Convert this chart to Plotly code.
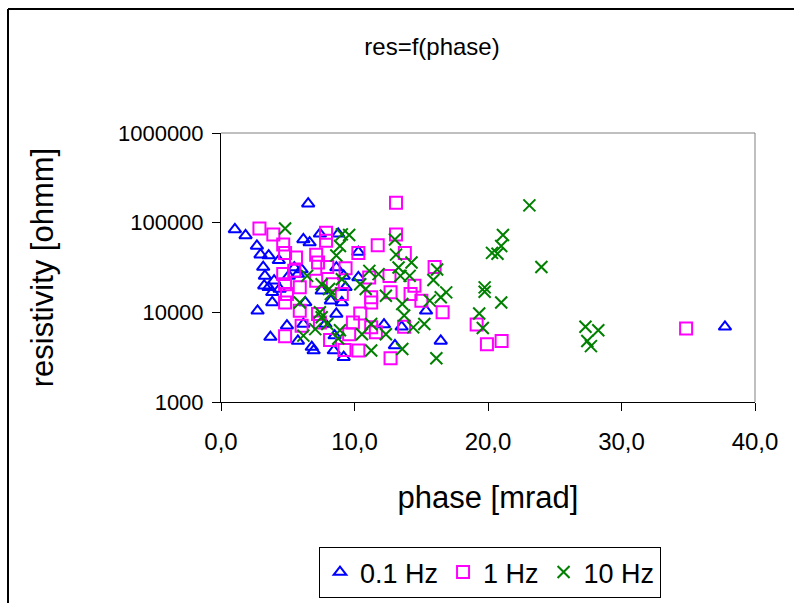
import plotly.graph_objects as go

# 0.1 Hz series: phase [mrad], resistivity [ohmm]
phase_01 = [6.53, 1.04, 1.84, 2.69, 2.96, 3.57, 6.17, 6.64, 7.41, 8.78, 10.29, 4.33, 3.16, 3.29,
            3.24, 3.57, 3.84, 3.84, 2.74, 5.08, 6.04, 5.76, 6.31, 8.64, 9.19, 10.29, 7.54, 9.05,
            8.23, 8.64, 4.94, 6.17, 7.82, 3.70, 5.76, 6.80, 6.94, 8.45, 9.19, 8.51, 12.21, 13.53,
            13.03, 15.36, 16.46, 37.75, 4.39, 3.98, 5.49, 9.33]
res_01 = [163000, 84000, 72000, 55000, 44000, 43000, 65000, 60000, 75000, 75000, 47000, 38000,
          32000, 25500, 19800, 19000, 16700, 12900, 10400, 25500, 30000, 26700, 12900, 31600,
          25500, 24500, 17400, 12900, 13500, 9600, 7100, 7400, 7400, 5300, 4800, 4100, 3750,
          3750, 3160, 5500, 7300, 6900, 4270, 10400, 4800, 6900, 18200, 22500, 31600, 19000]

# 1 Hz series
phase_1 = [13.11, 2.88, 3.92, 4.66, 4.80, 7.87, 7.87, 13.11, 11.74, 10.29, 13.77, 5.62, 7.13,
           7.27, 9.33, 7.96, 16.00, 4.66, 5.49, 4.80, 5.90, 4.94, 4.80, 5.90, 7.13, 8.37, 9.05,
           11.10, 12.62, 14.49, 12.70, 14.20, 11.25, 11.25, 15.01, 16.60, 10.43, 7.27, 6.04,
           9.88, 11.25, 13.72, 19.15, 34.84, 4.80, 8.17, 9.60, 11.60, 9.25, 10.29, 12.70, 19.92,
           21.02, 7.41]
res_1 = [167000, 86000, 74000, 57000, 46000, 77000, 63000, 74000, 56000, 46000, 46000, 41000,
         44000, 36000, 31000, 32000, 32000, 26700, 29000, 20600, 19000, 16000, 12900, 10400,
         22500, 20600, 16000, 24500, 25500, 19800, 16700, 16000, 14700, 12900, 13500, 10000,
         9700, 9600, 7100, 7700, 6800, 6900, 7300, 6600, 5400, 4900, 5700, 6000, 3800, 3750,
         3080, 4400, 4800, 7700]

# 10 Hz series
phase_10 = [4.80, 23.10, 9.05, 9.60, 8.91, 8.64, 13.03, 13.11, 21.12, 20.99, 20.30, 20.71,
            24.00, 14.27, 13.30, 11.11, 11.80, 13.44, 14.13, 15.91, 16.19, 6.45, 7.54, 8.09,
            8.23, 10.43, 10.84, 12.35, 16.87, 16.46, 19.75, 19.75, 20.99, 15.64, 13.58, 13.72,
            19.34, 5.90, 7.41, 7.54, 7.96, 7.06, 6.17, 8.91, 8.78, 10.56, 11.25, 12.35, 14.40,
            15.23, 19.61, 11.25, 13.58, 16.13, 27.30, 28.26, 27.44, 27.71, 9.05]
res_10 = [86000, 156000, 74000, 73000, 55000, 43000, 65000, 44000, 73000, 55000, 46000, 45000,
          32000, 36000, 31600, 29000, 26700, 25500, 25500, 22900, 30000, 25500, 20600, 18200,
          16000, 20600, 18200, 15300, 16700, 14700, 19000, 17000, 12900, 13500, 12400, 9200,
          9700, 12900, 10000, 8800, 7400, 6500, 5500, 6300, 5100, 5700, 7400, 5700, 6800, 7400,
          6700, 3750, 3900, 3080, 6900, 6300, 4800, 4200, 23400]

x_tickvals = [0, 10, 20, 30, 40]
x_ticktext = ["0,0", "10,0", "20,0", "30,0", "40,0"]
y_tickvals = [1000, 10000, 100000, 1000000]
y_ticktext = ["1000", "10000", "100000", "1000000"]

FONT = "Liberation Sans, Arial, sans-serif"

fig = go.Figure()
fig.add_trace(go.Scatter(x=phase_01, y=res_01, mode="markers", name="0.1 Hz",
                         marker=dict(symbol="triangle-up-open", size=11, color="#0000FF",
                                     line=dict(width=2, color="#0000FF"))))
fig.add_trace(go.Scatter(x=phase_1, y=res_1, mode="markers", name="1 Hz",
                         marker=dict(symbol="square-open", size=12, color="#FF00FF",
                                     line=dict(width=2, color="#FF00FF"))))
fig.add_trace(go.Scatter(x=phase_10, y=res_10, mode="markers", name="10 Hz",
                         marker=dict(symbol="x-thin-open", size=12, color="#008000",
                                     line=dict(width=2, color="#008000"))))

L, R, T, B = 221, 39, 133, 201
W, H = 794, 603
pw, ph = W - L - R, H - T - B

def px_x(p):
    return (p - L) / pw

def px_y(p):
    return (H - B - p) / ph

fig.update_layout(
    width=W, height=H,
    margin=dict(l=L, r=R, t=T, b=B, pad=0, autoexpand=False),
    paper_bgcolor="white", plot_bgcolor="white",
    font=dict(family=FONT, size=22, color="black"),
    title=dict(text="res=f(phase)", x=432 / W, xref="container", xanchor="center",
               y=1 - 47 / H, yref="container", yanchor="middle", font=dict(size=24)),
    showlegend=True,
    legend=dict(orientation="h", x=px_x(319), xanchor="left", y=px_y(547), yanchor="top",
                bordercolor="black", borderwidth=1, bgcolor="white",
                font=dict(size=27), itemwidth=30, tracegroupgap=0),
    xaxis=dict(range=[0, 40], tickvals=x_tickvals, ticktext=x_ticktext, automargin=False,
               showgrid=False, zeroline=False, showline=True, linecolor="black", linewidth=1,
               ticks="outside", ticklen=8, tickcolor="black", ticklabelstandoff=10,
               tickfont=dict(size=24), mirror=False,
               title=dict(text="phase [mrad]", font=dict(size=31), standoff=32)),
    yaxis=dict(type="log", range=[3, 6], tickvals=y_tickvals, ticktext=y_ticktext,
               automargin=False,
               showgrid=False, zeroline=False, showline=True, linecolor="black", linewidth=1,
               ticks="outside", ticklen=8, tickcolor="black", ticklabelstandoff=4,
               tickfont=dict(size=22),
               title=dict(text="resistivity [ohmm]", font=dict(size=31), standoff=55)),
    shapes=[
        dict(type="line", xref="paper", yref="paper", x0=0, x1=1, y0=1, y1=1,
             line=dict(color="#808080", width=1)),
        dict(type="line", xref="paper", yref="paper", x0=1, x1=1, y0=0, y1=1,
             line=dict(color="#808080", width=1)),
        dict(type="line", xref="paper", yref="paper", x0=px_x(8), x1=px_x(800),
             y0=px_y(9), y1=px_y(9), line=dict(color="black", width=2)),
        dict(type="line", xref="paper", yref="paper", x0=px_x(8), x1=px_x(8),
             y0=px_y(9), y1=px_y(610), line=dict(color="black", width=2)),
    ],
)

fig.write_html("out.html")
